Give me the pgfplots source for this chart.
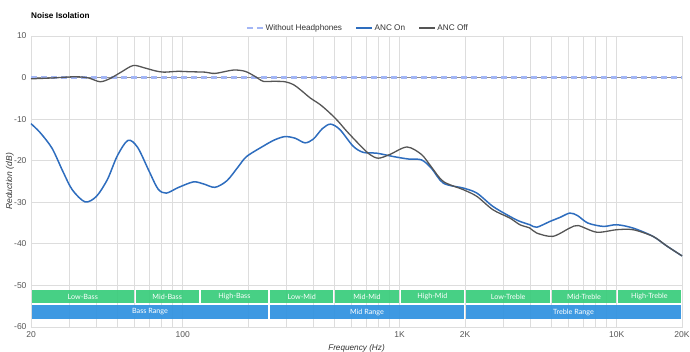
\documentclass[border=0pt]{standalone}
\usepackage{pgfplots}
\pgfplotsset{compat=1.18}
\usepackage{fontspec}
\setmainfont{Liberation Sans}
\newfontfamily\bandfont{Lato}
\definecolor{gridc}{HTML}{DDDDDD}
\definecolor{ticktext}{HTML}{555555}
\definecolor{ancon}{HTML}{2E6DBE}
\definecolor{ancoff}{HTML}{555555}
\definecolor{nohp}{HTML}{A3B6F5}
\definecolor{bandgreen}{HTML}{3DCD7E}
\definecolor{bandblue}{HTML}{3494E0}
\begin{document}
\begin{tikzpicture}[x=1pt,y=1pt]
\useasboundingbox (-31,-25) rectangle (659,327);
\begin{axis}[
  scale only axis, width=651pt, height=291pt,
  xmode=log, xmin=20, xmax=20000, ymin=-60, ymax=10,
  clip=false,
  xtick={20,100,1000,2000,10000,20000},
  xticklabels={20,100,1K,2K,10K,20K},
  minor xtick={30,40,50,60,70,80,90,200,300,400,500,600,700,800,900,3000,4000,5000,6000,7000,8000,9000},
  ytick={-60,-50,-40,-30,-20,-10,0,10},
  yticklabels={-60,-50,-40,-30,-20,-10,0,10},
  grid=both,
  major grid style={gridc, line width=0.9pt},
  minor grid style={gridc, line width=0.9pt},
  axis line style={gridc, line width=0.9pt},
  major tick length=0pt, minor tick length=0pt,
  tick label style={font=\fontsize{8.5}{10}\selectfont, text=ticktext},
  xticklabel style={yshift=-1pt},
  yticklabel style={xshift=-1pt},
  legend style={at={(0.5015,1.0275)}, anchor=center, draw=none, fill=none,
    font=\fontsize{8.2}{10}\selectfont, text=black!80,
    legend columns=3,
    /tikz/every even column/.append style={column sep=12pt},
    inner sep=0pt, nodes={inner sep=1.5pt}},
  legend image code/.code={\draw[#1] (0pt,0pt) -- (16pt,0pt);},
]
% zero line under the dashed reference
\draw[color=gray!90, line width=0.7pt] (axis cs:20,0) -- (axis cs:20000,0);

\addplot[nohp, line width=2.4pt, dash pattern=on 6pt off 4pt] coordinates {(20,0) (20000,0)};
\addlegendentry{Without Headphones}

\addplot[ancon, line width=1.5pt, smooth] coordinates {
(20,-11.1) (22,-13.2) (25,-17.0) (28,-22.5) (31,-27.0) (35.5,-29.9) (40,-28.6)
(45,-24.5) (50,-18.8) (56,-15.1) (62,-16.8) (70,-22.5) (77,-26.8) (84,-27.8)
(95,-26.5) (112,-25.1) (125,-25.6) (141,-26.4) (160,-24.8) (180,-21.5) (197,-19.0)
(235,-16.5) (265,-15.0) (296,-14.2) (330,-14.6) (366,-15.7) (400,-14.8) (440,-12.3)
(480,-11.2) (530,-12.5) (610,-16.5) (680,-18.0) (786,-18.2) (935,-19.0) (1100,-19.6)
(1260,-19.8) (1400,-21.8) (1590,-25.4) (1970,-26.6) (2270,-27.8) (2690,-31.0)
(3220,-33.4) (3580,-34.6) (3980,-35.4) (4280,-36.0) (4930,-34.6) (5500,-33.6)
(6080,-32.6) (6600,-33.2) (7370,-35.0) (8680,-35.8) (10000,-35.4) (11900,-36.2)
(14700,-38.2) (17000,-40.5) (20000,-42.9)
};
\addlegendentry{ANC On}

\addplot[ancoff, line width=1.3pt, smooth] coordinates {
(20,-0.3) (25,-0.1) (32,0.2) (36.8,-0.1) (41.6,-1.0) (46,-0.3) (52,1.3) (59.2,2.9)
(67,2.3) (75,1.6) (82,1.3) (95,1.5) (108,1.4) (127,1.3) (141,1.0) (171,1.8) (194,1.5)
(215,0.3) (235,-0.9) (260,-0.9) (296,-1.0) (324,-1.7) (350,-3.0) (387,-4.9) (430,-6.5)
(476,-8.5) (520,-10.5) (570,-12.9) (657,-16.3) (728,-18.5) (798,-19.4) (901,-18.5)
(1080,-16.7) (1260,-18.5) (1400,-21.5) (1590,-25.0) (1970,-27.0) (2270,-28.6)
(2690,-31.8) (3220,-33.8) (3580,-35.4) (3980,-36.2) (4280,-37.4) (5080,-38.2)
(6080,-36.2) (6650,-35.6) (8100,-37.2) (10000,-36.6) (11900,-36.6) (14700,-38.2)
(17000,-40.5) (20000,-42.9)
};
\addlegendentry{ANC Off}

% frequency bands
\tikzset{bandtxt/.style={text=white, font=\bandfont\fontsize{7.2}{8}\selectfont, inner sep=0pt}}
\foreach \a/\b/\m/\t in {20/60/34.64/Low-Bass, 60/120/84.85/Mid-Bass, 120/250/173.2/High-Bass,
  250/500/353.6/Low-Mid, 500/1000/707.1/Mid-Mid, 1000/2000/1414.2/High-Mid,
  2000/5000/3162.3/Low-Treble, 5000/10000/7071.1/Mid-Treble, 10000/20000/14142.1/High-Treble}{
  \edef\temp{\noexpand\fill[bandgreen, opacity=0.95] ([xshift=1pt]axis cs:\a,-51.2) rectangle ([xshift=-1pt]axis cs:\b,-54.2);
  \noexpand\node[bandtxt] at (axis cs:\m,-52.7) {\t};}
  \temp
}
\foreach \a/\b/\m/\t in {20/250/70.71/Bass Range, 250/2000/707.1/Mid Range, 2000/20000/6324.6/Treble Range}{
  \edef\temp{\noexpand\fill[bandblue, opacity=0.95] ([xshift=1pt]axis cs:\a,-54.8) rectangle ([xshift=-1pt]axis cs:\b,-58.0);
  \noexpand\node[bandtxt] at (axis cs:\m,-56.4) {\t};}
  \temp
}

\node[anchor=west, inner sep=0pt, font=\bfseries\fontsize{8.2}{10}\selectfont] at (rel axis cs:0,1.069) {Noise Isolation};
\node[rotate=90, inner sep=0pt, font=\itshape\fontsize{8.5}{10}\selectfont, text=black!80] at ([xshift=-21pt]rel axis cs:0,0.5) {Reduction (dB)};
\node[inner sep=0pt, font=\itshape\fontsize{8.2}{10}\selectfont, text=black!80] at ([yshift=-21pt]rel axis cs:0.5,0) {Frequency (Hz)};
\end{axis}
\end{tikzpicture}
\end{document}
